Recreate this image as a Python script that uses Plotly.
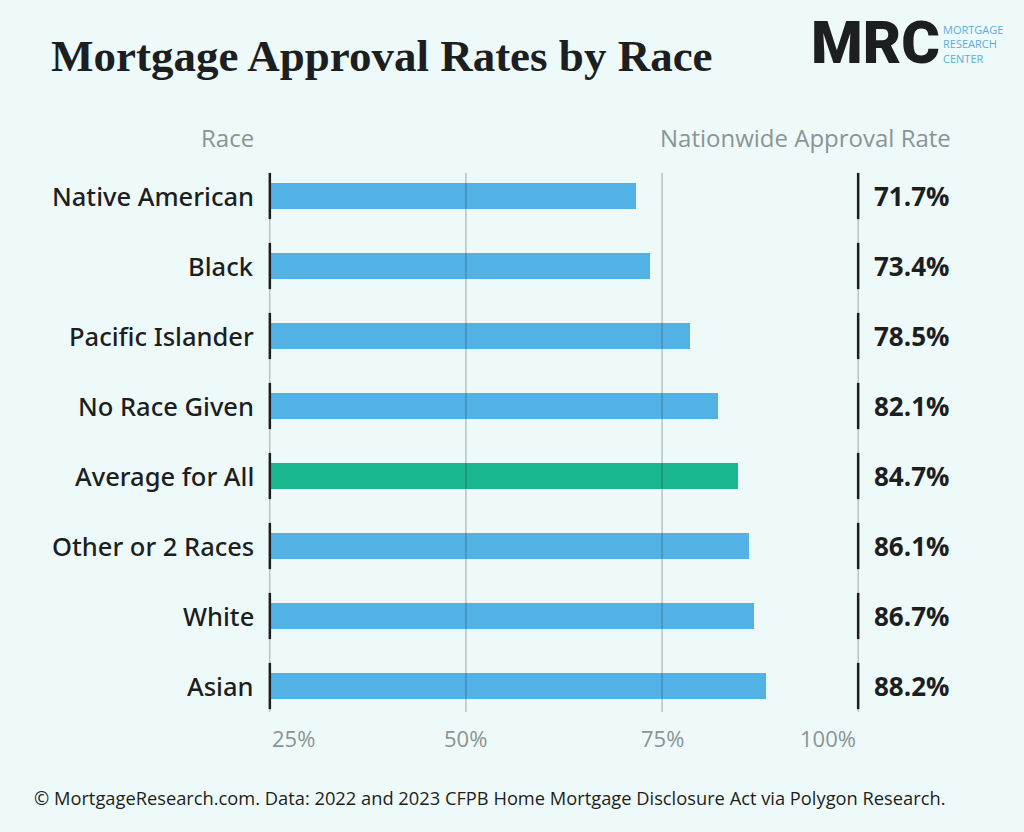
import plotly.graph_objects as go

categories = ["Native American", "Black", "Pacific Islander", "No Race Given",
              "Average for All", "Other or 2 Races", "White", "Asian"]
rates = [71.7, 73.4, 78.5, 82.1, 84.7, 86.1, 86.7, 88.2]
highlight = "Average for All"
tick_vals = [25, 50, 75, 100]
tick_text = ["25%", "50%", "75%", "100%"]

BG = "#EEF9FA"
BLUE = "#52B1E5"
GREEN = "#1BB791"
DARK = "#1C1E20"
GRAY = "#8A9594"
FONT = "Open Sans"

W, H = 1024, 832
ML, MR, MT, MB = 262, 158, 161, 111
BASE = 25
XMIN, XMAX = 24, 101
rows = list(range(len(categories)))


def px(x):
    return (x - ML) / (W - ML - MR)


def py(y):
    return (H - MB - y) / (H - MT - MB)


def xpaper(v):
    return (v - XMIN) / (XMAX - XMIN)


fig = go.Figure()
fig.add_trace(go.Bar(
    y=rows,
    x=[r - BASE for r in rates],
    base=BASE,
    orientation="h",
    width=0.37,
    marker=dict(color=[GREEN if c == highlight else BLUE for c in categories], line=dict(width=0)),
    hoverinfo="skip",
))

shapes = []
for t in tick_vals:
    shapes.append(dict(type="line", xref="x", yref="y", x0=t, x1=t, y0=-0.33, y1=len(categories) - 1 + 0.37,
                       line=dict(color="rgba(40,50,55,0.4)", width=1), layer="above"))
for i in rows:
    for t in (tick_vals[0], tick_vals[-1]):
        shapes.append(dict(type="line", xref="x", yref="y", x0=t, x1=t, y0=i - 0.33, y1=i + 0.33,
                           line=dict(color=DARK, width=2.5), layer="above"))

ann = []
for i, (c, r) in enumerate(zip(categories, rates)):
    ann.append(dict(x=BASE, y=i, xref="x", yref="y", text=c, showarrow=False, xanchor="right",
                    yanchor="middle", xshift=-14, font=dict(family="Noto Sans", size=25.5, color=DARK, weight=500)))
    ann.append(dict(x=tick_vals[-1], y=i, xref="x", yref="y", text=f"<b>{r:.1f}%</b>", showarrow=False,
                    xanchor="left", yanchor="middle", xshift=14, font=dict(family=FONT, size=26, color=DARK)))

anchors = ["left", "center", "center", "right"]
for t, lab, a in zip(tick_vals, tick_text, anchors):
    ann.append(dict(x=xpaper(t), y=py(738), xref="paper", yref="paper", text=lab, showarrow=False,
                    xanchor=a, yanchor="middle", font=dict(family=FONT, size=22, color=GRAY)))

ann.append(dict(x=xpaper(BASE), y=py(138), xref="paper", yref="paper", text="Race", showarrow=False,
                xanchor="right", yanchor="middle", xshift=-14, font=dict(family=FONT, size=24, color=GRAY)))
ann.append(dict(x=px(953), y=py(138), xref="paper", yref="paper", text="Nationwide Approval Rate",
                showarrow=False, xanchor="right", yanchor="middle", font=dict(family=FONT, size=24, color=GRAY)))

ann.append(dict(x=px(49), y=py(56), xref="paper", yref="paper", text="<b>Mortgage Approval Rates by Race</b>",
                showarrow=False, xanchor="left", yanchor="middle",
                font=dict(family="Liberation Serif", size=45, color=DARK)))

ann.append(dict(x=px(809), y=py(42), xref="paper", yref="paper", text="MRC", showarrow=False,
                xanchor="left", yanchor="middle", font=dict(family="Roboto", size=59, color=DARK, weight=900)))
ann.append(dict(x=px(941), y=py(44), xref="paper", yref="paper",
                text="MORTGAGE<br>RESEARCH<br>CENTER", showarrow=False, xanchor="left", yanchor="middle",
                align="left", font=dict(family=FONT, size=11, color="#5AAEDC")))

ann.append(dict(x=px(32), y=py(797), xref="paper", yref="paper",
                text="© MortgageResearch.com. Data: 2022 and 2023 CFPB Home Mortgage Disclosure Act via Polygon Research.",
                showarrow=False, xanchor="left", yanchor="middle", font=dict(family=FONT, size=18.3, color=DARK)))

fig.update_layout(
    width=W, height=H,
    margin=dict(l=ML, r=MR, t=MT, b=MB, pad=0),
    paper_bgcolor=BG, plot_bgcolor=BG,
    showlegend=False,
    xaxis=dict(range=[XMIN, XMAX], showgrid=False, zeroline=False, showticklabels=False, ticks=""),
    yaxis=dict(range=[len(categories) - 0.5, -0.5], showgrid=False, zeroline=False, showticklabels=False, ticks=""),
    shapes=shapes,
    annotations=ann,
    bargap=0,
)

fig.write_html("out.html", config={"displayModeBar": False},
               post_script="document.body.style.margin='0';document.body.style.background='#EEF9FA';")
